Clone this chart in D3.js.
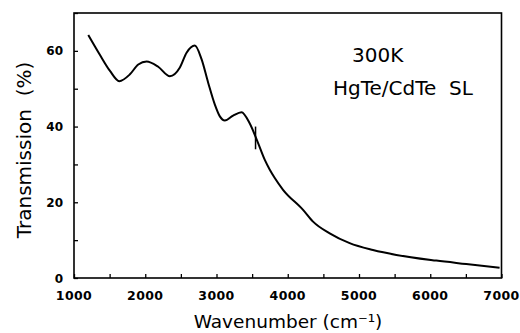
<!DOCTYPE html>
<html>
<head>
<meta charset="utf-8">
<script src="https://cdn.jsdelivr.net/npm/d3@7"></script>
<style>
  body { margin: 0; background: #fff; }
  svg { display: block; }
  text { font-family: "DejaVu Sans", sans-serif; fill: #000; }
</style>
</head>
<body>
<div class="chart"></div>
<script>
// values
const wavenumber = [1200, 1365, 1505, 1635, 1785, 1902, 2019, 2182, 2346, 2486, 2580, 2696, 2790,
  2883, 2977, 3047, 3117, 3233, 3351, 3467, 3570, 3678, 3748, 3818, 3934, 4215, 4355, 4589, 4869,
  5196, 5524, 6085, 6505, 6973];
const transmission = [64.2, 58.9, 54.7, 52.0, 53.8, 56.4, 57.2, 55.8, 53.3, 55.6, 59.5, 61.4, 57.8,
  51.6, 45.8, 42.7, 41.6, 42.9, 43.8, 40.8, 36.3, 31.2, 28.6, 26.4, 23.3, 18.0, 14.9, 11.8, 9.2,
  7.4, 6.1, 4.6, 3.7, 2.7];
const xTicks = [1000, 2000, 3000, 4000, 5000, 6000, 7000];
const yTicks = [0, 20, 40, 60];
const markerWn = 3548;
const markerRange = [34, 40];
const labels = ["300K", "HgTe/CdTe  SL"];

const width = 520, height = 333;
const plotLeft = 74, plotRight = 501.5, plotTop = 13, plotBottom = 278;

const svg = d3.select('.chart').append('svg')
  .attr('width', width)
  .attr('height', height);

const scaleX = d3.scaleLinear().domain([1000, 7000]).range([plotLeft, plotRight]);
const scaleY = d3.scaleLinear().domain([0, 70]).range([plotBottom, plotTop]);

// axes with inside ticks
const xAxis = d3.axisTop(scaleX).tickValues(d3.range(1000, 7001, 500)).tickSize(4).tickFormat('');
const yAxis = d3.axisRight(scaleY).tickValues(d3.range(0, 71, 10)).tickSize(4).tickFormat('');

svg.append('g').attr('transform', 'translate(0,' + plotBottom + ')').call(xAxis)
  .call(g => g.select('.domain').remove())
  .selectAll('line').attr('stroke-width', 1.3);
svg.append('g').attr('transform', 'translate(' + plotLeft + ',0)').call(yAxis)
  .call(g => g.select('.domain').remove())
  .selectAll('line').attr('stroke-width', 1.3);

// frame
svg.append('rect')
  .attr('x', plotLeft).attr('y', plotTop)
  .attr('width', plotRight - plotLeft).attr('height', plotBottom - plotTop)
  .attr('fill', 'none').attr('stroke', '#000').attr('stroke-width', 1.6);

// tick labels
svg.append('g').selectAll('text').data(xTicks).enter().append('text')
  .attr('x', d => scaleX(d))
  .attr('y', 300)
  .attr('text-anchor', 'middle')
  .attr('font-size', 12.5)
  .attr('font-weight', 'bold')
  .attr('letter-spacing', 0.4)
  .text(d => d);

svg.append('g').selectAll('text').data(yTicks).enter().append('text')
  .attr('x', 63)
  .attr('y', d => scaleY(d) + 4.5)
  .attr('text-anchor', 'end')
  .attr('font-size', 12)
  .attr('font-weight', 'bold')
  .text(d => d);

// titles
svg.append('text')
  .attr('x', 288).attr('y', 328)
  .attr('text-anchor', 'middle')
  .attr('font-size', 18.5)
  .text('Wavenumber (cm⁻¹)');

svg.append('text')
  .attr('transform', 'translate(31,150) rotate(-90)')
  .attr('text-anchor', 'middle')
  .attr('font-size', 20)
  .style('white-space', 'pre')
  .text('Transmission  (%)');

// annotations
svg.append('text').attr('x', 352).attr('y', 62).attr('font-size', 20).text(labels[0]);
svg.append('text').attr('x', 333).attr('y', 95).attr('font-size', 20)
  .style('white-space', 'pre').text(labels[1]);

// spectrum
const data = wavenumber.map((w, i) => ({x: w, y: transmission[i]}));
const line = d3.line()
  .x(d => scaleX(d.x))
  .y(d => scaleY(d.y))
  .curve(d3.curveMonotoneX);

svg.append('path')
  .datum(data)
  .attr('fill', 'none')
  .attr('stroke', '#000')
  .attr('stroke-width', 2)
  .attr('d', line);

// small marker crossing the curve
svg.append('line')
  .attr('x1', scaleX(markerWn)).attr('x2', scaleX(markerWn))
  .attr('y1', scaleY(markerRange[1])).attr('y2', scaleY(markerRange[0]))
  .attr('stroke', '#000').attr('stroke-width', 1.5);
</script>
</body>
</html>
